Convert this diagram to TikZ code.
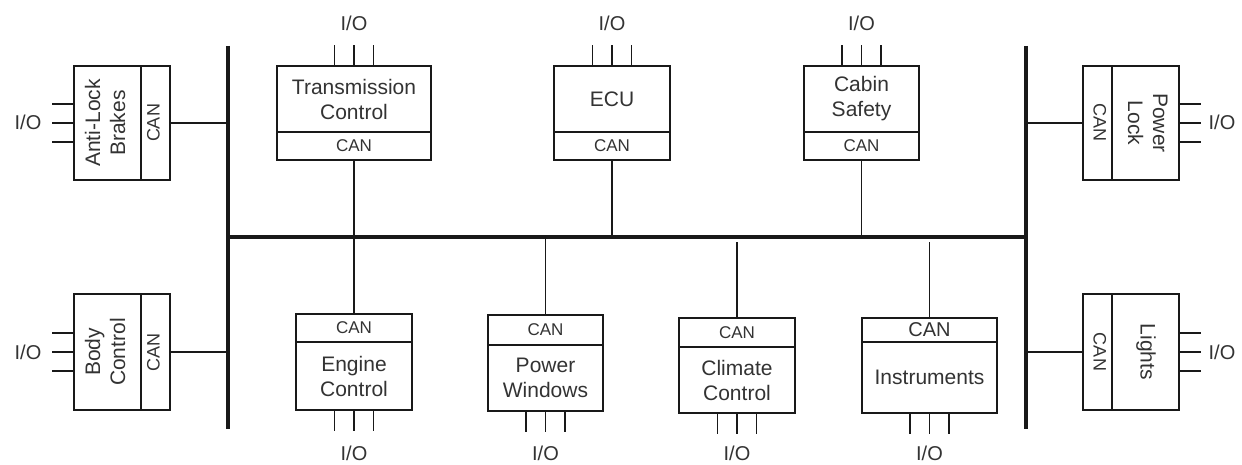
\documentclass[tikz,border=0pt]{standalone}
\usepackage{fontspec}
\setmainfont{Liberation Sans}
\tikzset{
  box/.style={draw=black!90, line width=1.8pt, inner sep=0pt, align=center, text=black!80,
              font=\fontsize{21}{25}\selectfont},
  canbox/.style={box, font=\fontsize{17}{20}\selectfont},
  vbox/.style={draw=black!90, line width=1.8pt, inner sep=0pt, text=black!80,
              font=\fontsize{21}{25}\selectfont},
  vcan/.style={vbox, font=\fontsize{18}{20}\selectfont},
  bus/.style={line width=3.5pt, draw=black!90},
  link/.style={line width=1.8pt, draw=black!90},
  pin/.style={line width=1.8pt, draw=black!90},
  iolabel/.style={text=black!80, font=\fontsize{20}{24}\selectfont, inner sep=0pt},
}
\newcommand{\vtxt}[2]{\rotatebox{#1}{\begin{tabular}{@{}c@{}}#2\end{tabular}}}
\begin{document}
\begin{tikzpicture}[x=1pt,y=-1pt]
\fill[white] (0,0) rectangle (1242,465);
\useasboundingbox (0,0) rectangle (1242,465);

% bus coordinates
\coordinate (lbT) at (228,46);
\coordinate (lbB) at (228,429);
\coordinate (rbT) at (1026,46);
\coordinate (rbB) at (1026,429);
\coordinate (hbL) at (228,237);
\coordinate (hbR) at (1026,237);
\coordinate (hbgap) at (0,242);

\draw[bus] (lbT) -- (lbB);
\draw[bus] (rbT) -- (rbB);
\draw[bus] (hbL) -- (hbR);

% ---------- top boxes ----------
\node[box, minimum width=154, minimum height=66] (tc) at (354,99) {Transmission\\Control};
\node[canbox, minimum width=154, minimum height=28] (tccan) at (354,146) {CAN};
\node[box, minimum width=116, minimum height=66] (ecu) at (612,99) {ECU};
\node[canbox, minimum width=116, minimum height=28] (ecucan) at (612,146) {CAN};
\node[box, minimum width=115, minimum height=66] (cs) at (861.5,99) {Cabin\\Safety};
\node[canbox, minimum width=115, minimum height=28] (cscan) at (861.5,146) {CAN};

\node[iolabel] (tcio) at (354,23) {I/O};
\node[iolabel] (ecuio) at (612,23) {I/O};
\node[iolabel] (csio) at (861.5,23) {I/O};
\foreach \n in {tc,ecu,cs}{
  \foreach \d in {-19.5,0,19.5}{
    \draw[pin] ([xshift=\d pt]\n.north) -- ++(0,-20);
  }
}
\draw[link] (tccan.south) -- (tccan.south |- hbL);
\draw[link] (ecucan.south) -- (ecucan.south |- hbL);
\draw[link] (cscan.south) -- (cscan.south |- hbL);

% ---------- bottom boxes ----------
\node[canbox, minimum width=116, minimum height=28] (eccan) at (354,328) {CAN};
\node[box, minimum width=116, minimum height=68] (ec) at (354,376) {Engine\\Control};
\node[canbox, minimum width=115, minimum height=30] (pwcan) at (545.5,330) {CAN};
\node[box, minimum width=115, minimum height=66] (pw) at (545.5,378) {Power\\Windows};
\node[canbox, minimum width=116, minimum height=29] (clcan) at (737,332.5) {CAN};
\node[box, minimum width=116, minimum height=66] (cl) at (737,380) {Climate\\Control};
\node[canbox, minimum width=135, minimum height=24, font=\fontsize{20}{22}\selectfont] (incan) at (929.5,330) {CAN};
\node[box, minimum width=135, minimum height=71] (in) at (929.5,377.5) {Instruments};

\node[iolabel] (ecio) at (354,453) {I/O};
\node[iolabel] (pwio) at (545.5,453) {I/O};
\node[iolabel] (clio) at (737,453) {I/O};
\node[iolabel] (inio) at (929.5,453) {I/O};
\foreach \n in {ec,pw,cl,in}{
  \foreach \d in {-19.5,0,19.5}{
    \draw[pin] ([xshift=\d pt]\n.south) -- ++(0,20);
  }
}
\draw[link] (eccan.north) -- (eccan.north |- hbL);
\draw[link] (pwcan.north) -- (pwcan.north |- hbL);
\draw[link] (clcan.north) -- (clcan.north |- hbgap);
\draw[link] (incan.north) -- (incan.north |- hbgap);

% ---------- left boxes ----------
\node[vbox, minimum width=67, minimum height=114] (ab) at (107.5,123) {\vtxt{90}{Anti-Lock\\Brakes}};
\node[vcan, minimum width=29, minimum height=114] (abcan) at (155.5,123) {\vtxt{90}{CAN}};
\node[vbox, minimum width=67, minimum height=116] (bc) at (107.5,352) {\vtxt{90}{Body\\Control}};
\node[vcan, minimum width=29, minimum height=116] (bccan) at (155.5,352) {\vtxt{90}{CAN}};

\node[iolabel] (abio) at (28,122) {I/O};
\node[iolabel] (bcio) at (28,352) {I/O};
\foreach \n in {ab,bc}{
  \foreach \d in {-19,0,19}{
    \draw[pin] ([yshift=\d pt]\n.west) -- ++(-21,0);
  }
}
\draw[link] (abcan.east) -- (abcan.east -| lbT);
\draw[link] (bccan.east) -- (bccan.east -| lbT);

% ---------- right boxes ----------
\node[vcan, minimum width=29, minimum height=114] (plcan) at (1097.5,123) {\vtxt{-90}{CAN}};
\node[vbox, minimum width=67, minimum height=114] (pl) at (1145.5,123) {\vtxt{-90}{Power\\Lock}};
\node[vcan, minimum width=29, minimum height=116] (lican) at (1097.5,352) {\vtxt{-90}{CAN}};
\node[vbox, minimum width=67, minimum height=116] (li) at (1145.5,352) {\vtxt{-90}{Lights}};

\node[iolabel] (plio) at (1222,122) {I/O};
\node[iolabel] (liio) at (1222,352) {I/O};
\foreach \n in {pl,li}{
  \foreach \d in {-19,0,19}{
    \draw[pin] ([yshift=\d pt]\n.east) -- ++(21,0);
  }
}
\draw[link] (plcan.west) -- (plcan.west -| rbT);
\draw[link] (lican.west) -- (lican.west -| rbT);
\end{tikzpicture}
\end{document}
